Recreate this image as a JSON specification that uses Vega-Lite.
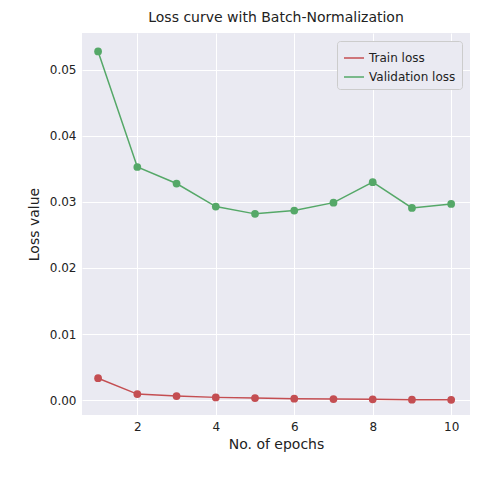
{
"$schema":"https://vega.github.io/schema/vega-lite/v6.json",
"width":388,"height":382,
"autosize":{"type":"none"},
"padding":{"left":82,"right":8,"top":33,"bottom":64},
"title":{"text":"Loss curve with Batch-Normalization","font":"DejaVu Sans","fontSize":14,"fontWeight":"normal","color":"#222","offset":8},
"config":{"view":{"fill":"#EAEAF2","stroke":null},"font":"DejaVu Sans"},
"data":{"values":[
{"epoch":1,"loss":0.0033,"series":"Train loss"},
{"epoch":2,"loss":0.0009,"series":"Train loss"},
{"epoch":3,"loss":0.0006,"series":"Train loss"},
{"epoch":4,"loss":0.0004,"series":"Train loss"},
{"epoch":5,"loss":0.0003,"series":"Train loss"},
{"epoch":6,"loss":0.0002,"series":"Train loss"},
{"epoch":7,"loss":0.00015,"series":"Train loss"},
{"epoch":8,"loss":0.0001,"series":"Train loss"},
{"epoch":9,"loss":0.00005,"series":"Train loss"},
{"epoch":10,"loss":0.00003,"series":"Train loss"},
{"epoch":1,"loss":0.0528,"series":"Validation loss"},
{"epoch":2,"loss":0.0353,"series":"Validation loss"},
{"epoch":3,"loss":0.0328,"series":"Validation loss"},
{"epoch":4,"loss":0.0293,"series":"Validation loss"},
{"epoch":5,"loss":0.0282,"series":"Validation loss"},
{"epoch":6,"loss":0.0287,"series":"Validation loss"},
{"epoch":7,"loss":0.0299,"series":"Validation loss"},
{"epoch":8,"loss":0.0330,"series":"Validation loss"},
{"epoch":9,"loss":0.0291,"series":"Validation loss"},
{"epoch":10,"loss":0.0297,"series":"Validation loss"}
]},
"mark":{"type":"line","point":{"size":60,"filled":true,"opacity":1},"strokeWidth":1.5},
"encoding":{
"x":{"field":"epoch","type":"quantitative","scale":{"domain":[0.59,10.48],"nice":false,"zero":false},
"axis":{"title":"No. of epochs","values":[2,4,6,8,10],"gridColor":"white","gridWidth":1,"domain":false,"ticks":false,"labelFontSize":12,"titleFontSize":14,"titleFontWeight":"normal","labelColor":"#222","titleColor":"#222","labelPadding":6,"titlePadding":5}},
"y":{"field":"loss","type":"quantitative","scale":{"domain":[-0.00227,0.0556],"nice":false,"zero":false},
"axis":{"title":"Loss value","values":[0,0.01,0.02,0.03,0.04,0.05],"format":".2f","gridColor":"white","gridWidth":1,"domain":false,"ticks":false,"labelFontSize":12,"titleFontSize":14,"titleFontWeight":"normal","labelColor":"#222","titleColor":"#222","labelPadding":6,"titlePadding":8}},
"color":{"field":"series","type":"nominal","scale":{"domain":["Train loss","Validation loss"],"range":["#C44E52","#55A868"]},
"legend":{"title":null,"orient":"top-right","fillColor":"#EAEAF2","strokeColor":"#ccc","padding":6,"cornerRadius":3,"labelFontSize":12,"labelColor":"#222","symbolType":"stroke","symbolStrokeWidth":1.5,"symbolSize":400,"offset":8}}
}
}
